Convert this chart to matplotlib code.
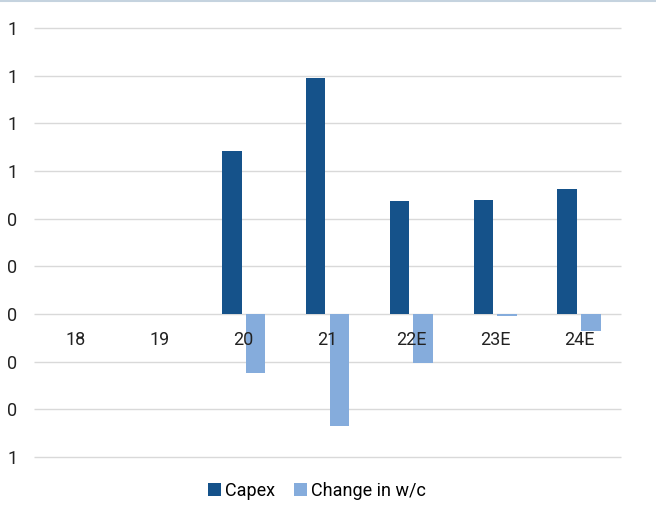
import numpy as np
import matplotlib.pyplot as plt
from matplotlib.lines import Line2D

plt.rcParams['font.family'] = ['Roboto', 'DejaVu Sans']

years = ['18', '19', '20', '21', '22E', '23E', '24E']
capex = [0.0, 0.0, 0.683, 0.99, 0.474, 0.478, 0.524]
change_wc = [0.0, 0.0, -0.247, -0.47, -0.205, -0.01, -0.071]
y_ticks = [-0.6, -0.4, -0.2, 0.0, 0.2, 0.4, 0.6, 0.8, 1.0, 1.2]
y_labels = ['1', '0', '0', '0', '0', '0', '1', '1', '1', '1']

fig = plt.figure(figsize=(6.56, 5.28), dpi=100)
ax = fig.add_axes([34/656, 1-457/528, 587/656, 429/528])

x = np.arange(len(years))
w = 0.233
# gridlines under the bars, tick labels over them
ax.hlines(y_ticks, -0.5, len(years) - 0.5, color='#d9d9d9', linewidth=1, zorder=0.5, clip_on=False)
ax.bar(x - 0.142, capex, w, color='#15528a', label='Capex', zorder=1)
ax.bar(x + 0.142, change_wc, w, color='#85acdc', label='Change in w/c', zorder=1)
ax.set_axisbelow(False)

ax.set_xlim(-0.5, len(years) - 0.5)
ax.set_ylim(-0.6, 1.2)
ax.set_yticks(y_ticks)
ax.set_yticklabels(y_labels, fontsize=13, color='#222222')
ax.tick_params(axis='y', length=0, pad=12)

ax.spines['bottom'].set_position(('data', 0))
ax.spines['bottom'].set_visible(False)
for s in ['top', 'left', 'right']:
    ax.spines[s].set_visible(False)
ax.set_xticks(x)
ax.set_xticklabels(years, fontsize=13, color='#222222')
ax.tick_params(axis='x', length=0, pad=12)

fig.legend(loc='center', bbox_to_anchor=(317/656, 1-491/528), ncol=2, frameon=False,
           fontsize=13, handlelength=0.7, handleheight=0.7, handletextpad=0.2,
           columnspacing=1.1)

fig.add_artist(Line2D([0, 1], [1-0.5/528, 1-0.5/528], color='#c5d3df', linewidth=1.5,
                      transform=fig.transFigure))

fig.savefig('out.png', dpi=100)
